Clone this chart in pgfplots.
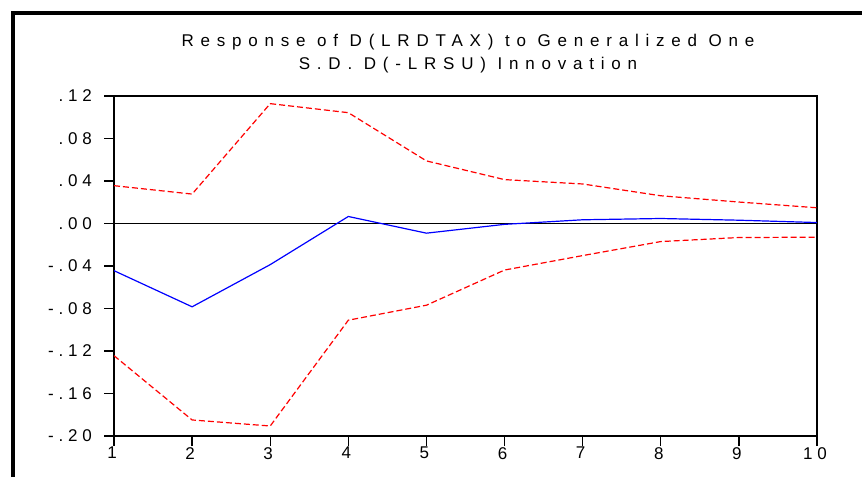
\documentclass[border=0pt]{standalone}
\usepackage{fontspec}
\setmainfont{Liberation Sans}[LetterSpace=40]
\newfontfamily\tickfont{Liberation Sans}[LetterSpace=28]
\usepackage{pgfplots}
\pgfplotsset{compat=1.18}

\begin{document}
\begin{tikzpicture}[x=1pt,y=1pt]
\fontsize{17}{21}\selectfont
\useasboundingbox (0,0) rectangle (862,477);
% outer frame, cut off at right and bottom
\draw[line width=4pt] (12.5,0) -- (12.5,464) -- (862,464);
\node[align=center, font=\fontsize{17}{23}\selectfont, anchor=center] at (468,423)
  {Response of D(LRDTAX) to Generalized One\\S.D. D(-LRSU) Innovation};
\begin{axis}[
    at={(114pt,41pt)}, anchor=south west,
    scale only axis,
    width=703pt, height=340pt,
    xmin=1, xmax=10, ymin=-0.20, ymax=0.12,
    xtick={1,...,10},
    ytick={-0.20,-0.16,-0.12,-0.08,-0.04,0,0.04,0.08,0.12},
    yticklabels={-.20,-.16,-.12,-.08,-.04,.00,.04,.08,.12},
    tick align=outside,
    major tick length=10pt,
    tick style={black, line width=1.3pt},
    axis line style={line width=1.6pt},
    xtick pos=bottom, ytick pos=left,
    ticklabel style={font=\tickfont\fontsize{17}{20}\selectfont},
    xticklabel style={inner sep=1pt, xshift=-2pt},
    yticklabel style={inner sep=1pt, xshift=-11pt},
    /pgf/number format/assume math mode=true,
]
\addplot[black, line width=1.2pt] coordinates {(1,0) (10,0)};
\addplot[red, line width=1.2pt, dash pattern=on 6pt off 3pt] coordinates {
(1,0.0356) (2,0.0277) (3,0.1128) (4,0.1043) (5,0.0589) (6,0.0413) (7,0.0372) (8,0.0261) (9,0.0202) (10,0.0148)};
\addplot[blue, line width=1.2pt] coordinates {
(1,-0.0444) (2,-0.0784) (3,-0.0387) (4,0.0066) (5,-0.0091) (6,-0.0008) (7,0.0035) (8,0.0047) (9,0.0031) (10,0.0009)};
\addplot[red, line width=1.2pt, dash pattern=on 6pt off 3pt] coordinates {
(1,-0.1244) (2,-0.1849) (3,-0.1906) (4,-0.0910) (5,-0.0769) (6,-0.0438) (7,-0.0302) (8,-0.0170) (9,-0.0132) (10,-0.0129)};
\end{axis}
\end{tikzpicture}
\end{document}
